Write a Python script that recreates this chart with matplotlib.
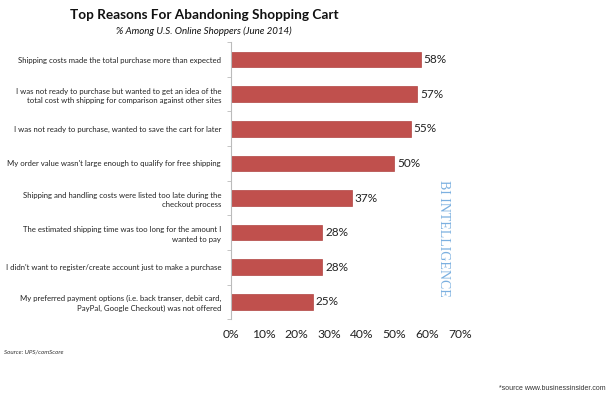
import numpy as np
import matplotlib.pyplot as plt

reasons = [
    "Shipping costs made the total purchase more than expected",
    "I was not ready to purchase but wanted to get an idea of the\ntotal cost wth shipping for comparison against other sites",
    "I was not ready to purchase, wanted to save the cart for later",
    "My order value wasn't large enough to qualify for free shipping",
    "Shipping and handling costs were listed too late during the\ncheckout process",
    "The estimated shipping time was too long for the amount I\nwanted to pay",
    "I didn't want to register/create account just to make a purchase",
    "My preferred payment options (i.e. back transer, debit card,\nPayPal, Google Checkout) was not offered",
]
shares = [58, 57, 55, 50, 37, 28, 28, 25]
xticks = [0, 10, 20, 30, 40, 50, 60, 70]

plt.rcParams['font.family'] = ['Lato', 'DejaVu Sans']

fig = plt.figure(figsize=(6.09, 3.98), dpi=100)
ax = fig.add_axes([0.379, 0.198, 0.376, 0.696])

y = np.arange(len(reasons))
ax.barh(y, shares, height=0.45, color='#C0504D', edgecolor='#B04542', linewidth=0.5)
for yi, v in zip(y, shares):
    ax.text(v + 0.8, yi, f"{v}%", va='center', ha='left', fontsize=8.5, color='#222222')

ax.set_ylim(len(reasons) - 0.5, -0.5)
ax.set_xlim(0, 70)
ax.set_yticks(y)
ax.set_yticklabels(reasons, fontsize=5.6, color='#222222', linespacing=1.4)
ax.set_yticks(np.arange(len(reasons) + 1) - 0.5, minor=True)
ax.tick_params(axis='y', which='major', length=0, pad=7)
ax.tick_params(axis='y', which='minor', length=3, color='#BBBBBB')
ax.set_xticks(xticks)
ax.set_xticklabels([f"{t}%" for t in xticks], fontsize=8.7, color='#222222')
ax.tick_params(axis='x', length=0, pad=7)

for s in ['top', 'right', 'bottom']:
    ax.spines[s].set_visible(False)
ax.spines['left'].set_color('#BBBBBB')
ax.spines['left'].set_linewidth(0.8)

fig.text(0.335, 0.962, "Top Reasons For Abandoning Shopping Cart", ha='center', va='center',
         fontsize=9.8, fontweight='bold', color='#111111')
fig.text(0.335, 0.922, "% Among U.S. Online Shoppers (June 2014)", ha='center', va='center',
         fontsize=7.0, style='italic', color='#111111')
fig.text(0.728, 0.4, "BI INTELLIGENCE", rotation=-90, ha='center', va='center',
         fontsize=10, color='#7BB0E0', family='Liberation Serif')
fig.text(0.006, 0.115, "Source: UPS/comScore", ha='left', va='center',
         fontsize=4.5, style='italic', color='#333333')
fig.text(0.994, 0.025, "*source www.businessinsider.com", ha='right', va='center',
         fontsize=5, color='#333333', family='Liberation Sans')

fig.savefig("out.png", dpi=100)
